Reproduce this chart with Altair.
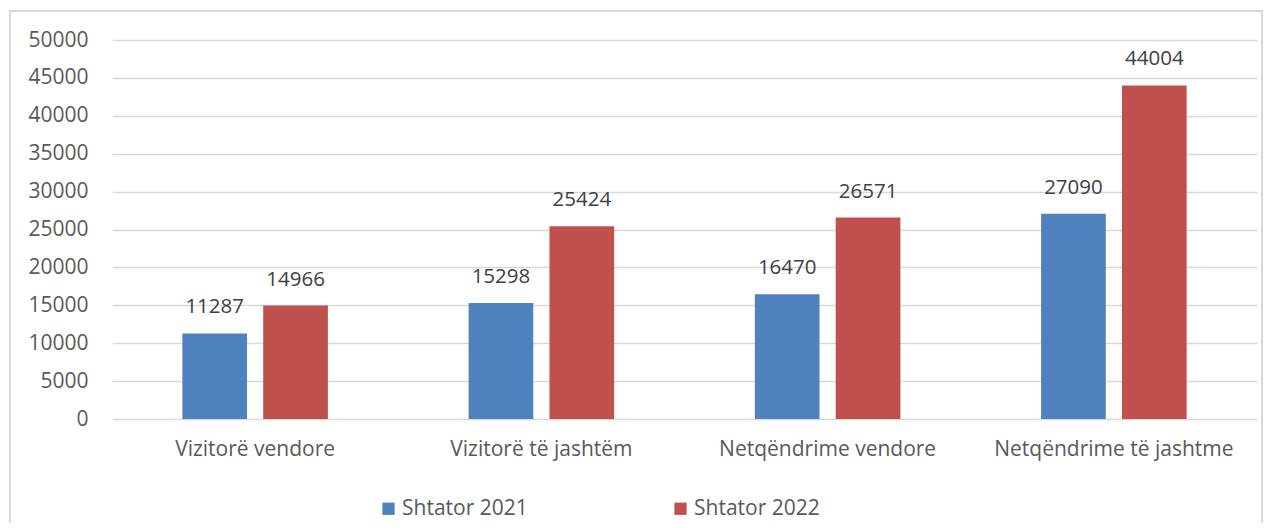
import altair as alt
import pandas as pd

categories = ["Vizitorë vendore", "Vizitorë të jashtëm", "Netqëndrime vendore", "Netqëndrime të jashtme"]
series = ["Shtator 2021", "Shtator 2022"]
values_2021 = [11287, 15298, 16470, 27090]
values_2022 = [14966, 25424, 26571, 44004]
y_ticks = [0, 5000, 10000, 15000, 20000, 25000, 30000, 35000, 40000, 45000, 50000]
colors = ["#4f81bd", "#c0504d"]

rows = []
for c, a, b in zip(categories, values_2021, values_2022):
    rows.append({"cat": c, "series": series[0], "value": a})
    rows.append({"cat": c, "series": series[1], "value": b})
df = pd.DataFrame(rows)

FONT = "Open Sans"
TXT = "#595959"
FS = 21

base = alt.Chart(df).encode(
    x=alt.X("cat:N", sort=categories, title=None,
            scale=alt.Scale(paddingInner=0, paddingOuter=0),
            axis=alt.Axis(labelAngle=0, labelFontSize=FS, labelColor=TXT, labelFont=FONT,
                          ticks=False, domain=False, labelPadding=19, grid=False, labelLimit=0)),
    xOffset=alt.XOffset("series:N", sort=series,
                        scale=alt.Scale(paddingInner=0.2, paddingOuter=0.87)),
    y=alt.Y("value:Q", title=None,
            scale=alt.Scale(domain=[0, 50000]),
            axis=alt.Axis(values=y_ticks, format="d", labelOverlap=False, labelFontSize=FS,
                          labelColor=TXT, labelFont=FONT, ticks=False, domain=False,
                          labelPadding=24, grid=True, gridColor="#d9d9d9", gridWidth=1.5,
                          tickCount=11)),
)

bars = base.mark_bar().encode(
    color=alt.Color("series:N", sort=series, title=None,
                    scale=alt.Scale(domain=series, range=colors),
                    legend=alt.Legend(orient="none", legendX=266, legendY=458, direction="horizontal",
                                      symbolType="square", symbolSize=150, symbolStrokeWidth=0,
                                      labelFontSize=FS, labelColor=TXT, labelFont=FONT,
                                      columnPadding=142, symbolOffset=0, labelOffset=3)),
)

labels = base.mark_text(baseline="bottom", dy=-16, fontSize=20.5, color="#404040", font=FONT).encode(
    text=alt.Text("value:Q", format="d"),
)

frame = alt.Chart(df).mark_rect(fill=None, stroke="#d9d9d9", strokeWidth=2).encode(
    x=alt.value(-102), x2=alt.value(1150), y=alt.value(-29), y2=alt.value(520)
)

chart = alt.layer(frame, bars, labels).properties(
    width=1145, height=379,
    background="white",
    autosize=alt.AutoSizeParams(type="none"),
    padding={"left": 104, "top": 32, "right": 6, "bottom": 104},
).configure_view(strokeWidth=0, stroke="transparent").configure_axisX(grid=False)

chart.save("out.html", embed_options={"renderer": "svg", "actions": False})
